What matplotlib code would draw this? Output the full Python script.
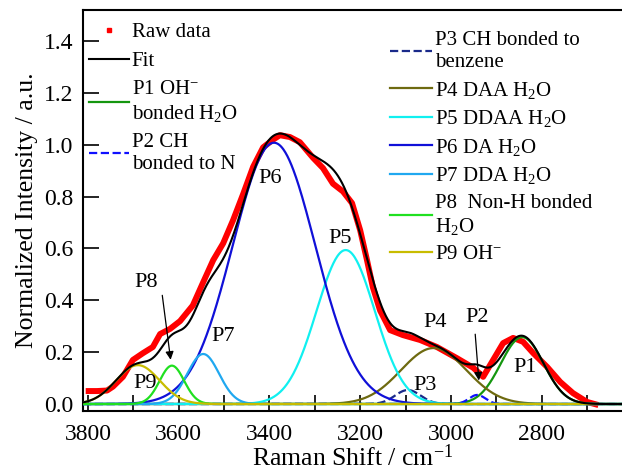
"""
Raman OH-stretch band with fitted Gaussian components
"""
import numpy as np
import matplotlib
matplotlib.use("Agg")
import matplotlib.pyplot as plt
from matplotlib.lines import Line2D
from matplotlib.ticker import MultipleLocator

plt.rcParams["font.family"] = ["Liberation Serif", "DejaVu Serif"]
plt.rcParams["mathtext.fontset"] = "custom"
plt.rcParams["mathtext.rm"] = "Liberation Serif"
plt.rcParams["mathtext.it"] = "Liberation Serif:italic"

# Raw spectrum (wavenumber, normalized intensity)
RAW_X = [3805, 3780, 3758, 3745, 3723, 3701, 3679, 3657, 3641, 3619, 3597,
         3569, 3546, 3524, 3502, 3480, 3458, 3436, 3414, 3392, 3377, 3355,
         3333, 3304, 3282, 3260, 3238, 3218, 3200, 3185, 3172, 3156, 3134,
         3106, 3068, 3031, 2987, 2951, 2929, 2907, 2885, 2863, 2841, 2819,
         2788, 2759, 2731, 2700, 2675]
RAW_Y = [0.05, 0.05, 0.052, 0.067, 0.105, 0.17, 0.196, 0.22, 0.27, 0.29, 0.32,
         0.38, 0.47, 0.555, 0.62, 0.71, 0.81, 0.915, 0.99, 1.02, 1.037, 1.03,
         1.01, 0.95, 0.91, 0.85, 0.82, 0.775, 0.67, 0.555, 0.45, 0.36, 0.285,
         0.266, 0.247, 0.22, 0.177, 0.14, 0.105, 0.17, 0.235, 0.255, 0.24, 0.197,
         0.143, 0.085, 0.042, 0.008, -0.004]

# Fitted Gaussian components P1..P9 (center, height, sigma)
PEAK_CENTERS = [2843, 2942, 3095, 3038, 3232, 3390, 3546, 3615, 3690]
PEAK_HEIGHTS = [0.258, 0.035, 0.054, 0.216, 0.594, 1.008, 0.193, 0.148, 0.150]
PEAK_WIDTHS = [47, 18, 28, 72, 64, 91, 35, 27, 48]
PEAK_LABELS = ["P1 OH$^{\\mathregular{-}}$\nbonded H$_{\\mathregular{2}}$O",
               "P2 CH\nbonded to N",
               "P3 CH bonded to\nbenzene",
               "P4 DAA H$_{\\mathregular{2}}$O",
               "P5 DDAA H$_{\\mathregular{2}}$O",
               "P6 DA H$_{\\mathregular{2}}$O",
               "P7 DDA H$_{\\mathregular{2}}$O",
               "P8  Non-H bonded\nH$_{\\mathregular{2}}$O",
               "P9 OH$^{\\mathregular{-}}$"]
PEAK_COLORS = ["#14960f", "#1010ff", "#1a2a8a", "#6e6a10", "#10f0f0",
               "#1010d8", "#20a8f0", "#20e020", "#c8bc00"]
PEAK_STYLES = ["-", "--", "--", "-", "-", "-", "-", "-", "-"]

XLIM = (3811, 2623)


def gaussian(x, center, height, sigma):
    """ Single Gaussian band. """
    return height * np.exp(-(x - center) ** 2 / (2.0 * sigma ** 2))


fig = plt.figure(figsize=(6.22, 4.70), dpi=100)
ax = fig.add_axes([0.1334, 0.1255, 0.8666, 0.8532])

x = np.linspace(XLIM[0], XLIM[1], 800)
components = [gaussian(x, c, h, s) for c, h, s in
              zip(PEAK_CENTERS, PEAK_HEIGHTS, PEAK_WIDTHS)]
fit = np.sum(components, axis=0)

ax.plot(RAW_X, RAW_Y, color="red", lw=4.3, solid_capstyle="butt", zorder=2)
fit_line, = ax.plot(x, fit, color="black", lw=1.5, zorder=4)
peak_lines = []
for comp, col, ls, lab in zip(components, PEAK_COLORS, PEAK_STYLES, PEAK_LABELS):
    line, = ax.plot(x, comp, color=col, ls=ls, lw=1.6, zorder=3, label=lab)
    peak_lines.append(line)

raw_handle = Line2D([], [], color="red", marker="s", ls="none", markersize=3.5)

leg1 = ax.legend([raw_handle, fit_line, peak_lines[0], peak_lines[1]],
                 ["Raw data", "Fit", PEAK_LABELS[0], PEAK_LABELS[1]],
                 loc="upper left", bbox_to_anchor=(-0.012, 1.0), frameon=False,
                 fontsize=15, handlelength=1.9, handletextpad=0.15,
                 labelspacing=0.45, borderaxespad=0.2)
ax.add_artist(leg1)
ax.legend(peak_lines[2:], PEAK_LABELS[2:], loc="upper left",
          bbox_to_anchor=(0.547, 0.978), frameon=False, fontsize=15,
          handlelength=2.0, handletextpad=0.15, labelspacing=0.36,
          borderaxespad=0.2)

# peak labels
ax.text(3674, 0.08, "P9", fontsize=16, ha="center", va="center")
ax.text(3672, 0.47, "P8", fontsize=16, ha="center", va="center")
ax.annotate("", xy=(3617, 0.16), xytext=(3637, 0.43),
            arrowprops=dict(arrowstyle="-|>", color="black", lw=0.9,
                            mutation_scale=12))
ax.text(3502, 0.26, "P7", fontsize=16, ha="center", va="center")
ax.text(3399, 0.87, "P6", fontsize=16, ha="center", va="center")
ax.text(3244, 0.64, "P5", fontsize=16, ha="center", va="center")
ax.text(3035, 0.316, "P4", fontsize=16, ha="center", va="center")
ax.text(3057, 0.073, "P3", fontsize=16, ha="center", va="center")
ax.text(2942, 0.335, "P2", fontsize=16, ha="center", va="center")
ax.annotate("", xy=(2938, 0.08), xytext=(2947, 0.28),
            arrowprops=dict(arrowstyle="-|>", color="black", lw=0.9,
                            mutation_scale=12))
ax.text(2837, 0.14, "P1", fontsize=16, ha="center", va="center")

ax.set_xlim(*XLIM)
ax.set_ylim(-0.027, 1.52)
ax.xaxis.set_major_locator(MultipleLocator(200))
ax.xaxis.set_minor_locator(MultipleLocator(100))
ax.yaxis.set_major_locator(MultipleLocator(0.2))
ax.yaxis.set_major_formatter(matplotlib.ticker.FormatStrFormatter("%.1f"))
ax.tick_params(which="both", direction="in", length=11.5, width=1.2,
               labelsize=17, top=False, right=False)
ax.tick_params(axis="x", pad=9)
ax.tick_params(axis="y", pad=7)
for side in ["left", "bottom", "top"]:
    ax.spines[side].set_linewidth(1.5)
ax.spines["right"].set_visible(False)

ax.set_xlabel("Raman Shift / cm$^{\\mathregular{-1}}$", fontsize=18.5, labelpad=0)
ax.set_ylabel("Normalized Intensity / a.u.", fontsize=18.5, labelpad=4)

fig.savefig("out.png", dpi=100)
plt.close(fig)
